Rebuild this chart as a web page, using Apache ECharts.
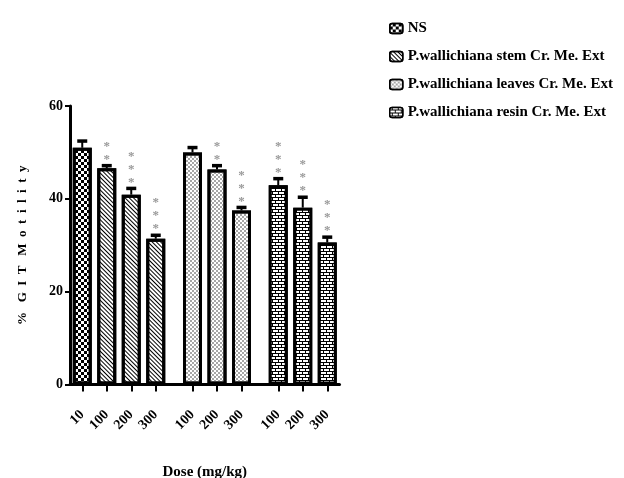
<!DOCTYPE html>
<html>
<head>
<meta charset="utf-8">
<script src="https://cdn.jsdelivr.net/npm/echarts@6/dist/echarts.min.js"></script>
<style>html,body{margin:0;padding:0;background:#fff;}#c{width:624px;height:478px;}</style>
</head>
<body>
<div id="c"></div>
<script>
// ---- data ----
const seriesNames = ['NS', 'P.wallichiana stem Cr. Me. Ext', 'P.wallichiana leaves Cr. Me. Ext', 'P.wallichiana resin Cr. Me. Ext'];
const doseNS = ['10'];
const doseStem = ['100', '200', '300'];
const doseLeaves = ['100', '200', '300'];
const doseResin = ['100', '200', '300'];
const meanNS = [51.0];
const meanStem = [46.6, 40.9, 31.4];
const meanLeaves = [50.0, 46.3, 37.5];
const meanResin = [42.9, 38.1, 30.6];
const semNS = [1.5];
const semStem = [0.6, 1.4, 0.8];
const semLeaves = [1.1, 0.9, 0.7];
const semResin = [1.5, 2.3, 1.2];
const starsNS = [0];
const starsStem = [2, 3, 3];
const starsLeaves = [0, 2, 3];
const starsResin = [3, 3, 3];
const gapBefore = [false, false, true, true];
const yTicks = [0, 20, 40, 60];

const groups = [
  {dose: doseNS, mean: meanNS, sem: semNS, stars: starsNS},
  {dose: doseStem, mean: meanStem, sem: semStem, stars: starsStem},
  {dose: doseLeaves, mean: meanLeaves, sem: semLeaves, stars: starsLeaves},
  {dose: doseResin, mean: meanResin, sem: semResin, stars: starsResin}
];

// build half-slot category layout
let pos = 1;
const placed = [];
groups.forEach((g, gi) => {
  if (gapBefore[gi]) pos += 1;
  g.dose.forEach((d, i) => { placed.push({gi, pos, d, m: g.mean[i], s: g.sem[i], n: g.stars[i]}); pos += 2; });
});
const nCat = pos;
const categories = new Array(nCat).fill('');
placed.forEach(p => { categories[p.pos] = p.d; });

const FONT = 'Liberation Serif';
const decals = [
  {symbol: 'rect', symbolSize: 1, dashArrayX: [[3, 3], [0, 3, 3, 0]], dashArrayY: [3, 0], color: '#000'},
  {symbol: 'rect', symbolSize: 1, dashArrayX: [1, 0], dashArrayY: [1, 2], rotation: Math.PI / 4, color: '#000'},
  {symbol: 'circle', symbolSize: 1, dashArrayX: [[2, 2], [0, 2, 2, 0]], dashArrayY: [2, 0], color: '#888'},
  {symbol: 'rect', symbolSize: 1, dashArrayX: [[5, 1], [2, 1, 3, 0]], dashArrayY: [2, 1], color: '#fff'}
];
const fills = ['#fff', '#fff', '#fff', '#000'];

const barSeries = seriesNames.map((name, gi) => {
  const data = new Array(nCat).fill('-');
  placed.filter(p => p.gi === gi).forEach(p => { data[p.pos] = p.m; });
  return {
    name, type: 'bar', data, barWidth: 19, barGap: '-100%',
    itemStyle: {color: fills[gi], borderColor: '#000', borderWidth: 3, decal: decals[gi]},
    emphasis: {disabled: true}, z: 2
  };
});

const errSeries = {
  type: 'custom', z: 5, silent: true,
  data: placed.map(p => [p.pos, p.m, p.s, p.n]),
  renderItem: function (params, api) {
    const x = api.value(0), m = api.value(1), s = api.value(2), n = api.value(3);
    const b = api.coord([x, m]);
    const t = api.coord([x, m + s]);
    const children = [
      {type: 'line', shape: {x1: b[0], y1: b[1], x2: t[0], y2: t[1]}, style: {stroke: '#000', lineWidth: 2}},
      {type: 'rect', shape: {x: t[0] - 5, y: t[1] - 1.5, width: 10, height: 3.5}, style: {fill: '#000'}}
    ];
    for (let k = 0; k < n; k++) {
      children.push({type: 'text', style: {text: '*', x: t[0], y: t[1] - 6 - 13 * k, fill: '#999', font: 'bold 13px ' + FONT, align: 'center', verticalAlign: 'middle'}});
    }
    return {type: 'group', children};
  }
};

const chart = echarts.init(document.getElementById('c'), null, {renderer: 'canvas'});
chart.setOption({
  animation: false,
  backgroundColor: '#fff',
  legend: {
    data: seriesNames, orient: 'vertical', left: 384, top: 16,
    itemWidth: 13, itemHeight: 10, itemGap: 13,
    itemStyle: {borderWidth: 1.5},
    textStyle: {fontFamily: FONT, fontWeight: 'bold', fontSize: 15, color: '#000'},
    selectedMode: false
  },
  grid: {left: 70, right: 284.5, top: 106, bottom: 93.5, containLabel: false, outerBoundsMode: 'none'},
  xAxis: {
    type: 'category', data: categories, boundaryGap: false,
    name: 'Dose (mg/kg)', nameLocation: 'middle', nameGap: 80,
    nameTextStyle: {fontFamily: FONT, fontWeight: 'bold', fontSize: 15, color: '#000'},
    axisLine: {lineStyle: {color: '#000', width: 3}},
    axisTick: {length: 7, lineStyle: {color: '#000', width: 2}, interval: (i, v) => v !== ''},
    axisLabel: {interval: (i, v) => v !== '', rotate: 45, margin: 28, fontFamily: FONT, fontWeight: 'bold', fontSize: 14, color: '#000'},
    splitLine: {show: false}
  },
  yAxis: {
    type: 'value', min: yTicks[0], max: yTicks[yTicks.length - 1], interval: yTicks[1] - yTicks[0],
    name: '%   G  I  T   M  o  t  i  l  i  t  y', nameLocation: 'middle', nameGap: 41,
    nameTextStyle: {fontFamily: FONT, fontWeight: 'bold', fontSize: 13, color: '#000'},
    axisLine: {show: true, lineStyle: {color: '#000', width: 3}},
    axisTick: {show: true, length: 5, lineStyle: {color: '#000', width: 2}},
    axisLabel: {margin: 7, fontFamily: FONT, fontWeight: 'bold', fontSize: 14, color: '#000'},
    splitLine: {show: false}
  },
  series: [...barSeries, errSeries]
});
</script>
</body>
</html>
